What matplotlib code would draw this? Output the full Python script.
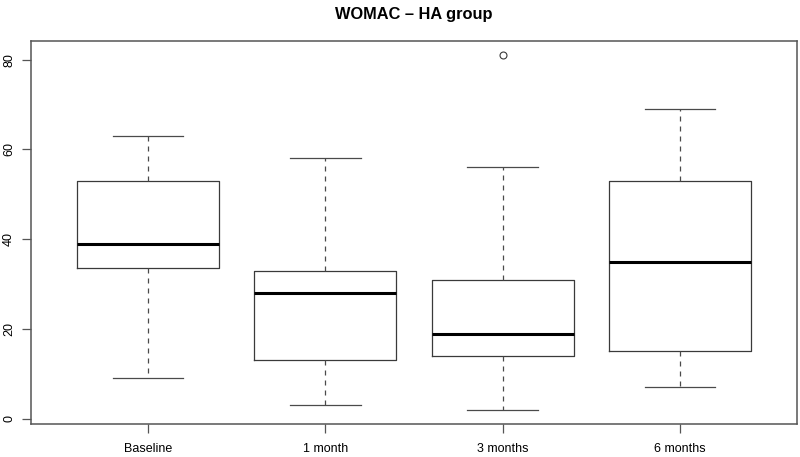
import matplotlib
matplotlib.use("Agg")
import matplotlib.pyplot as plt

plt.rcParams['font.family'] = ['Liberation Sans', 'DejaVu Sans']

groups = ['Baseline', '1 month', '3 months', '6 months']
whislo = [9, 3, 2, 7]
q1 = [33.5, 13, 14, 15]
med = [39, 28, 19, 35]
q3 = [53, 33, 31, 53]
whishi = [63, 58, 56, 69]
fliers = [[], [], [81], []]

stats = []
for i, g in enumerate(groups):
    stats.append(dict(label=g, whislo=whislo[i], q1=q1[i], med=med[i],
                      q3=q3[i], whishi=whishi[i], fliers=fliers[i]))

fig = plt.figure(figsize=(8, 4.57), dpi=100)
ax = fig.add_axes([0.03875, 0.0722, 0.9575, 0.8381])

lc = '#3a3a3a'
ax.bxp(stats, positions=[1, 2, 3, 4], widths=0.8,
       boxprops=dict(color=lc, linewidth=0.9),
       medianprops=dict(color='black', linewidth=2.2, solid_capstyle='butt'),
       whiskerprops=dict(color='#4a4a4a', linewidth=0.9, linestyle=(0, (4, 4))),
       capprops=dict(color='#4a4a4a', linewidth=0.9),
       capwidths=0.4,
       flierprops=dict(marker='o', markerfacecolor='none', markeredgecolor=lc,
                       markersize=5, markeredgewidth=0.8))

ax.set_xlim(0.34, 4.66)
ax.set_ylim(-1.16, 84.16)
ax.set_yticks([0, 20, 40, 60, 80])
ax.set_yticklabels(['0', '20', '40', '60', '80'], rotation=90, va='center')
ax.tick_params(axis='both', length=6.5, width=0.9, color='#555555',
               labelsize=9)
ax.tick_params(axis='x', pad=7)
ax.tick_params(axis='y', pad=5)

for s in ax.spines.values():
    s.set_color('#555555')
    s.set_linewidth(1.1)

ax.set_title('WOMAC \u2013 HA group', fontsize=11.8, fontweight='bold', pad=15.5)

fig.savefig('out.png', dpi=100)
